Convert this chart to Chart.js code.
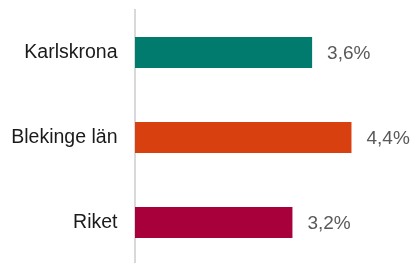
<!DOCTYPE html>
<html>
<head>
<meta charset="utf-8">
<script src="https://cdn.jsdelivr.net/npm/chart.js@4/dist/chart.umd.min.js"></script>
<style>
  html, body { margin: 0; padding: 0; background: #fff; overflow: hidden; }
  #wrap { position: relative; width: 414px; height: 265px; }
</style>
</head>
<body>
<div id="wrap"><canvas id="chart"></canvas></div>
<script>
  var categories = ['Karlskrona', 'Blekinge län', 'Riket'];
  var values = [3.6, 4.4, 3.2];
  var barColors = ['#007b6d', '#d9400f', '#a7003b'];

  function formatPct(v) {
    return v.toFixed(1).replace('.', ',') + '%';
  }

  // draws the value text to the right of each bar
  var valueLabels = {
    id: 'valueLabels',
    afterDatasetsDraw: function(chart) {
      var ctx = chart.ctx;
      var meta = chart.getDatasetMeta(0);
      ctx.save();
      ctx.font = '19px "Liberation Sans", Arial, sans-serif';
      ctx.fillStyle = '#595959';
      ctx.textAlign = 'left';
      ctx.textBaseline = 'middle';
      meta.data.forEach(function(bar, i) {
        ctx.fillText(formatPct(values[i]), bar.x + 15, bar.y + 1);
      });
      ctx.restore();
    }
  };

  new Chart(document.getElementById('chart'), {
    type: 'bar',
    data: {
      labels: categories,
      datasets: [{
        data: values,
        backgroundColor: barColors,
        borderWidth: 0,
        categoryPercentage: 1,
        barPercentage: 0.365
      }]
    },
    options: {
      indexAxis: 'y',
      responsive: true,
      maintainAspectRatio: false,
      animation: false,
      layout: { padding: { top: 10, right: 33, bottom: 0, left: 0 } },
      plugins: { legend: { display: false }, tooltip: { enabled: false } },
      scales: {
        x: { display: false, min: 0, max: 5 },
        y: {
          afterFit: function(scale) {
            scale.width = 135;
            scale.paddingTop = 0;
            scale.paddingBottom = 0;
          },
          border: { display: true, color: '#d9d9d9', width: 2 },
          grid: { display: false, drawTicks: false },
          ticks: {
            padding: 17.5,
            color: '#1a1a1a',
            font: { family: '"Liberation Sans", Arial, sans-serif', size: 19.5 }
          }
        }
      }
    },
    plugins: [valueLabels]
  });
</script>
</body>
</html>
